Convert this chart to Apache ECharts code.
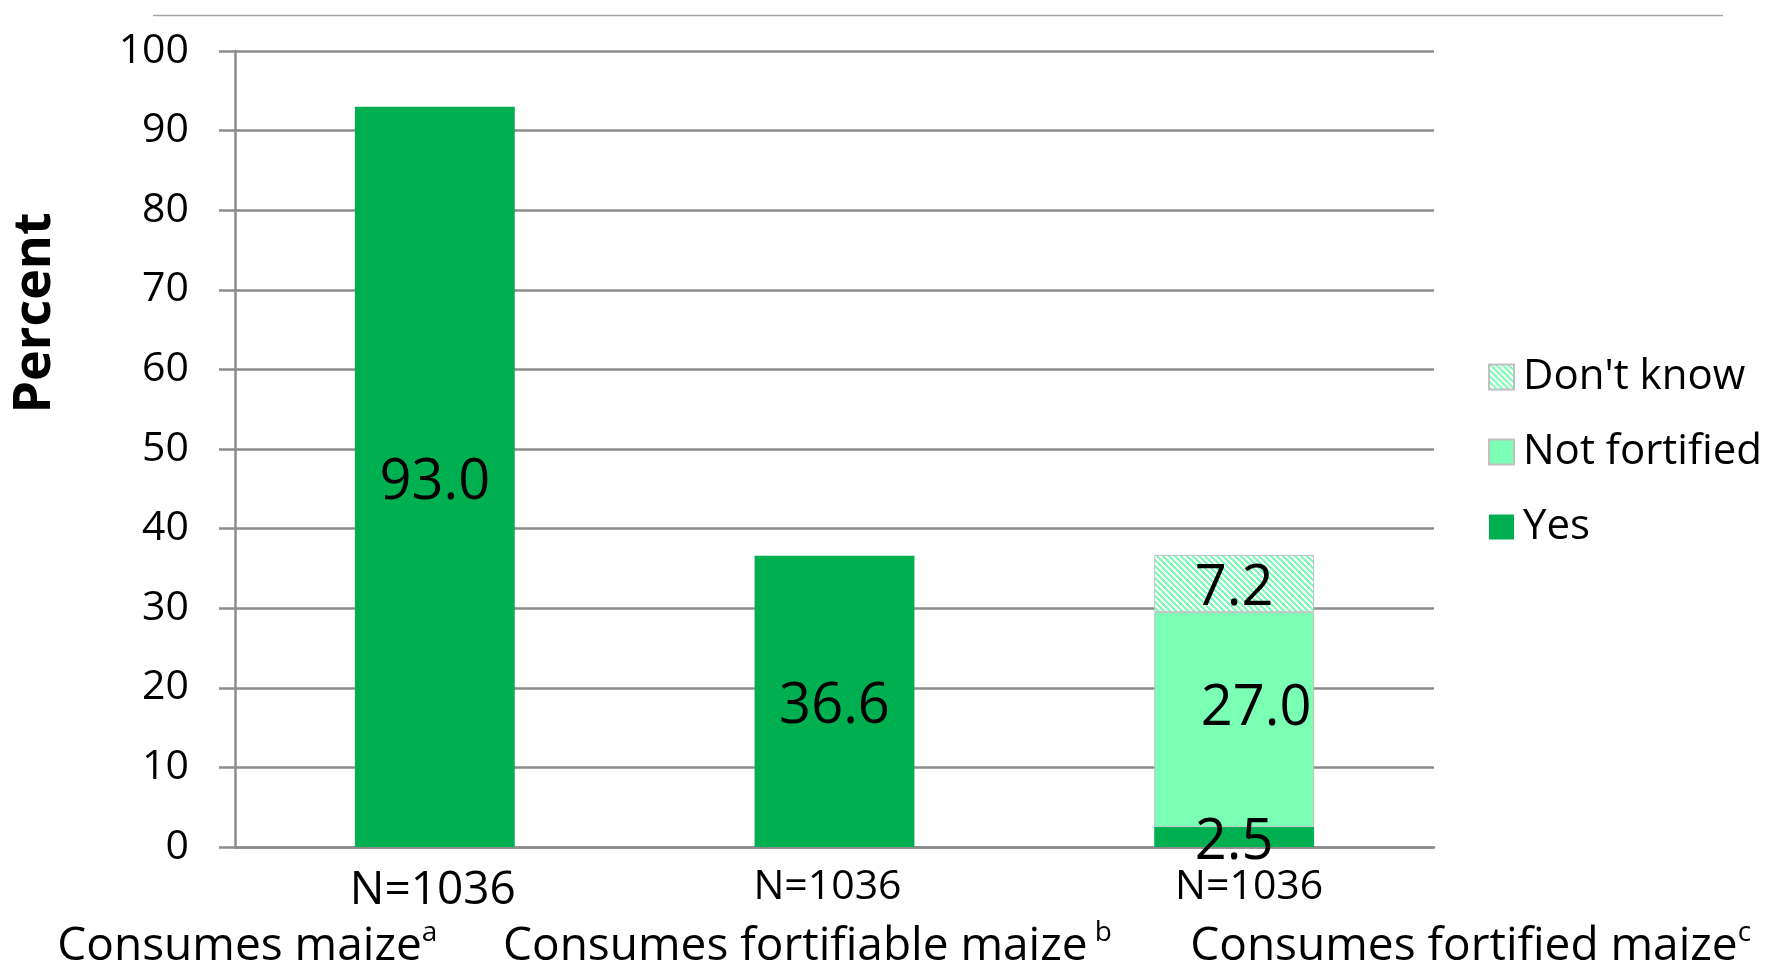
<!DOCTYPE html>
<html>
<head>
<meta charset="utf-8">
<script src="https://cdn.jsdelivr.net/npm/echarts@6/dist/echarts.min.js"></script>
<style>
  body { margin: 0; background: #fff; }
  #main { width: 1766px; height: 964px; }
</style>
</head>
<body>
<div id="main"></div>
<script>
// data
const categories = ['Consumes maize', 'Consumes fortifiable maize', 'Consumes fortified maize']
const footnotes = ['a', ' b', 'c']
const sampleN = [1036, 1036, 1036]
const yesValues = [93.0, 36.6, 2.5]
const notFortifiedValues = ['-', '-', 27.0]
const dontKnowValues = ['-', '-', 7.2]
const legendOrder = ["Don't know", 'Not fortified', 'Yes']

const FONT = 'Open Sans'
const GRAY = '#8c8c8c'
const GREEN = '#00b050'
const LIGHT = '#7affb5'

// diagonal hatch for "Don't know"
function makeHatch() {
  const c = document.createElement('canvas')
  c.width = 6
  c.height = 6
  const ctx = c.getContext('2d')
  ctx.fillStyle = '#ffffff'
  ctx.fillRect(0, 0, 6, 6)
  ctx.fillStyle = LIGHT
  for (let y = 0; y < 6; y++) {
    for (let x = 0; x < 6; x++) {
      if ((x - y + 6) % 6 < 3) ctx.fillRect(x, y, 1, 1)
    }
  }
  return c
}

// per-category label tweaks (Excel text boxes are not centred)
const rich = {}
const nLine = [50, 42, 42]
const nameLine = [62, 78, 78]
const nSize = [46, 41, 41]
const nPad = [[0, 4, 0, 0], [0, 14, 0, 0], [0, 0, 0, 30]]
const namePadL = [0, 0, 473]
const supPadR = [375, 54, 0]
for (let i = 0; i < 3; i++) {
  rich['n' + i] = { fontFamily: FONT, fontSize: nSize[i], color: '#000', lineHeight: nLine[i], padding: nPad[i] }
  rich['c' + i] = { fontFamily: FONT, fontSize: 46, color: '#000', lineHeight: nameLine[i], padding: [0, 0, 0, namePadL[i]] }
  rich['s' + i] = { fontFamily: FONT, fontSize: 28, color: '#000', lineHeight: 28, padding: [0, supPadR[i], 28, 0] }
}

var myChart = echarts.init(document.getElementById('main'))

const labelBase = {
  show: true,
  position: 'inside',
  offset: [0, 6],
  fontFamily: FONT,
  fontSize: 56,
  color: '#000',
  formatter: p => Number(p.value).toFixed(1)
}

const option = {
  animation: false,
  backgroundColor: '#fff',
  grid: {
    left: 235,
    right: 332,
    top: 51,
    bottom: 117,
    containLabel: false,
    outerBoundsMode: 'none'
  },
  legend: {
    orient: 'vertical',
    left: 1483,
    top: 351,
    itemWidth: 25,
    itemHeight: 25,
    itemGap: 33,
    icon: 'rect',
    data: legendOrder,
    textStyle: { fontFamily: FONT, fontSize: 42, color: '#000', lineHeight: 25, padding: [0, 0, 0, 4] }
  },
  xAxis: {
    type: 'category',
    data: categories,
    axisLine: { show: true, lineStyle: { color: GRAY, width: 2.5 } },
    axisTick: { show: false },
    axisLabel: {
      interval: 0,
      margin: 19,
      formatter: (value, idx) =>
        '{n' + idx + '|N=' + sampleN[idx] + '}\n{c' + idx + '|' + value + '}{s' + idx + '|' + footnotes[idx] + '}',
      rich: rich
    }
  },
  yAxis: {
    type: 'value',
    min: 0,
    max: 100,
    interval: 10,
    axisLine: { show: true, lineStyle: { color: GRAY, width: 2.5 } },
    axisTick: { show: true, inside: false, length: 16, lineStyle: { color: GRAY, width: 2.5 } },
    splitLine: { lineStyle: { color: GRAY, width: 2.5 } },
    axisLabel: { fontFamily: FONT, fontSize: 41, color: '#000', margin: 46 }
  },
  graphic: [
    {
      type: 'line',
      shape: { x1: 153, y1: 15.5, x2: 1723, y2: 15.5 },
      style: { stroke: '#a6a6a6', lineWidth: 1.5 }
    },
    {
      type: 'text',
      x: 35,
      y: 313,
      rotation: Math.PI / 2,
      style: {
        text: 'Percent',
        fontFamily: FONT,
        fontWeight: 'bold',
        fontSize: 52,
        fill: '#000',
        textAlign: 'center',
        textVerticalAlign: 'middle'
      }
    }
  ],
  series: [
    {
      name: 'Yes',
      type: 'bar',
      stack: 'total',
      barWidth: '40%',
      data: yesValues,
      itemStyle: { color: GREEN },
      label: labelBase
    },
    {
      name: 'Not fortified',
      type: 'bar',
      stack: 'total',
      data: notFortifiedValues,
      itemStyle: { color: LIGHT, borderColor: '#c0c0c0', borderWidth: 1 },
      label: Object.assign({}, labelBase, { offset: [22, -11] })
    },
    {
      name: "Don't know",
      type: 'bar',
      stack: 'total',
      data: dontKnowValues,
      itemStyle: { color: { image: makeHatch(), repeat: 'repeat' }, borderColor: '#c0c0c0', borderWidth: 1 },
      label: labelBase
    }
  ]
}

myChart.setOption(option)
</script>
</body>
</html>
